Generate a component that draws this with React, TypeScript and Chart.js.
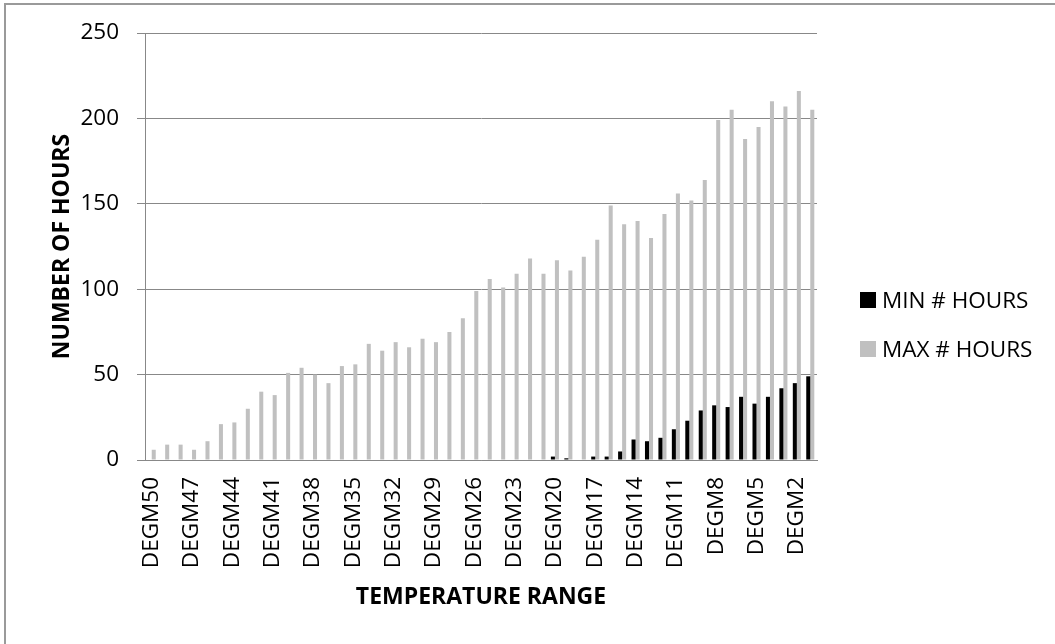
import React, { useEffect, useRef } from "react";
import { Chart, registerables } from "chart.js";

Chart.register(...registerables);

const categories = [
  "DEGM50", "DEGM49", "DEGM48", "DEGM47", "DEGM46", "DEGM45", "DEGM44", "DEGM43", "DEGM42", "DEGM41",
  "DEGM40", "DEGM39", "DEGM38", "DEGM37", "DEGM36", "DEGM35", "DEGM34", "DEGM33", "DEGM32", "DEGM31",
  "DEGM30", "DEGM29", "DEGM28", "DEGM27", "DEGM26", "DEGM25", "DEGM24", "DEGM23", "DEGM22", "DEGM21",
  "DEGM20", "DEGM19", "DEGM18", "DEGM17", "DEGM16", "DEGM15", "DEGM14", "DEGM13", "DEGM12", "DEGM11",
  "DEGM10", "DEGM9", "DEGM8", "DEGM7", "DEGM6", "DEGM5", "DEGM4", "DEGM3", "DEGM2", "DEGM1",
];

const minHours = [
  0, 0, 0, 0, 0, 0, 0, 0, 0, 0,
  0, 0, 0, 0, 0, 0, 0, 0, 0, 0,
  0, 0, 0, 0, 0, 0, 0, 0, 0, 0,
  2, 1, 0, 2, 2, 5, 12, 11, 13, 18,
  23, 29, 32, 31, 37, 33, 37, 42, 45, 49,
];

const maxHours = [
  6, 9, 9, 6, 11, 21, 22, 30, 40, 38,
  51, 54, 50, 45, 55, 56, 68, 64, 69, 66,
  71, 69, 75, 83, 99, 106, 101, 109, 118, 109,
  117, 111, 119, 129, 149, 138, 140, 130, 144, 156,
  152, 164, 199, 205, 188, 195, 210, 207, 216, 205,
];

const seriesNames = ["MIN # HOURS", "MAX # HOURS"];
const seriesColors = ["#000000", "#c0c0c0"];
const yMin = 0;
const yMax = 250;
const yStep = 50;
const labelEvery = 3;
const xTitle = "TEMPERATURE RANGE";
const yTitle = "NUMBER OF HOURS";

const FONT = "'Open Sans', 'Noto Sans', 'DejaVu Sans', sans-serif";

export default function App() {
  const canvasRef = useRef<HTMLCanvasElement | null>(null);

  useEffect(() => {
    const canvas = canvasRef.current;
    if (!canvas) return;
    const chart = new Chart(canvas, {
      type: "bar",
      data: {
        labels: categories,
        datasets: [
          {
            label: seriesNames[0],
            data: minHours,
            backgroundColor: seriesColors[0],
            borderWidth: 0,
          },
          {
            label: seriesNames[1],
            data: maxHours,
            backgroundColor: seriesColors[1],
            borderWidth: 0,
          },
        ],
      },
      options: {
        animation: false,
        responsive: true,
        maintainAspectRatio: false,
        events: [],
        datasets: {
          bar: { categoryPercentage: 0.6, barPercentage: 1.0 },
        },
        layout: { padding: { left: 0, top: 33, right: 238, bottom: 0 } },
        plugins: {
          legend: { display: false },
          tooltip: { enabled: false },
          title: { display: false },
        },
        scales: {
          x: {
            offset: true,
            grid: { display: false, drawTicks: false },
            border: { display: true, color: "#888888", width: 1 },
            ticks: {
              autoSkip: false,
              minRotation: 90,
              maxRotation: 90,
              padding: 17,
              color: "#000000",
              font: { family: FONT, size: 22.5 },
              callback: (_v: any, i: number) => (i % labelEvery === 0 ? categories[i] : ""),
            },
            title: {
              display: true,
              text: xTitle,
              color: "#000000",
              font: { family: FONT, size: 23, weight: "bold" },
              padding: { top: 0, bottom: 33 },
            },
            afterFit: (scale: any) => {
              scale.height = 184;
            },
          },
          y: {
            min: yMin,
            max: yMax,
            grid: {
              color: "#888888",
              lineWidth: 1,
              drawTicks: true,
              tickLength: 8,
            },
            border: { display: true, color: "#888888", width: 1 },
            ticks: {
              stepSize: yStep,
              padding: 18,
              color: "#000000",
              font: { family: FONT, size: 22.5 },
            },
            title: {
              display: true,
              text: yTitle,
              color: "#000000",
              font: { family: FONT, size: 23, weight: "bold" },
              padding: { top: 49, bottom: 0 },
            },
            afterFit: (scale: any) => {
              scale.width = 145;
            },
          },
        },
      },
    });
    return () => chart.destroy();
  }, []);

  const legendText: React.CSSProperties = {
    fontFamily: FONT,
    fontSize: 22.5,
    color: "#000",
    lineHeight: "30px",
    whiteSpace: "nowrap",
  };

  return (
    <div style={{ position: "absolute", left: 0, top: 0, width: 1055, height: 644, background: "#fff", overflow: "hidden" }}>
      <div
        style={{
          position: "absolute",
          left: 4,
          top: 3,
          right: -10,
          bottom: -10,
          borderTop: "2px solid #9a9a9a",
          borderLeft: "2px solid #9a9a9a",
        }}
      />
      <div style={{ position: "absolute", left: 0, top: 0, width: 1055, height: 644 }}>
        <canvas ref={canvasRef} />
      </div>
      {seriesNames.map((name, i) => (
        <div
          key={name}
          style={{
            position: "absolute",
            left: 860,
            top: i === 0 ? 285 : 334,
            height: 30,
            display: "flex",
            alignItems: "center",
          }}
        >
          <div style={{ width: 16, height: 16, background: seriesColors[i], marginRight: 6 }} />
          <span style={legendText}>{name}</span>
        </div>
      ))}
    </div>
  );
}
